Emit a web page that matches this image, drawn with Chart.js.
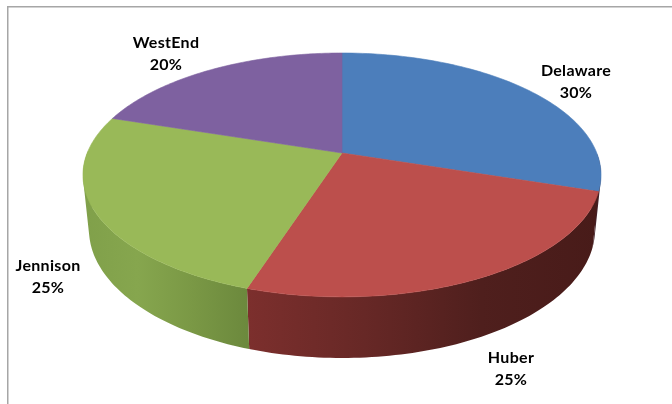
<!DOCTYPE html>
<html>
<head>
<meta charset="utf-8">
<script src="https://cdn.jsdelivr.net/npm/chart.js@4"></script>
<style>
    html, body { margin: 0; padding: 0; background: #fff; }
    canvas { display: block; }
</style>
</head>
<body>
<canvas id="pieChart" width="672" height="404"></canvas>
<script>
var categories = ['Delaware', 'Huber', 'Jennison', 'WestEnd'];
var shares = [30, 25, 25, 20];

var topColors = ['#4c7ebb', '#bc4f4c', '#99b958', '#7e61a0'];
var sideColors = [
    ['#43222a', '#43222a'],
    ['#7c2f2d', '#672826', '#4f1f1d', '#481b19'],
    ['#80a04a', '#86a64e', '#7a9845', '#6c893d'],
    ['#4c3b60', '#4c3b60']
];
var labelSpots = [[576, 71], [511, 358], [48, 266], [166, 43]];

// the tilted disc, in units of the radius the library gives the pie
var tilt = 0.18;
var topDisc = { sx: 2.548, sy: 1.18, drop: 0 };
var baseDisc = { sx: 2.489, sy: 1.243, drop: 53.4 };

function project(arc, disc, angle) {
    var u = Math.cos(angle), v = Math.sin(angle);
    var w = 1 - tilt * v;
    return {
        x: arc.x + disc.sx * arc.outerRadius * u / w,
        y: arc.y + disc.drop + disc.sy * arc.outerRadius * v / w
    };
}

function edge(arc, disc) {
    var pts = [];
    for (var i = 0; i <= 80; i++) {
        pts.push(project(arc, disc, arc.startAngle + (arc.endAngle - arc.startAngle) * i / 80));
    }
    return pts;
}

function tracePoints(ctx, pts, first) {
    pts.forEach(function (p, i) {
        if (i === 0 && first) ctx.moveTo(p.x, p.y);
        else ctx.lineTo(p.x, p.y);
    });
}

function signedArea(pts) {
    var sum = 0;
    pts.forEach(function (p, i) {
        var q = pts[(i + 1) % pts.length];
        sum += p.x * q.y - q.x * p.y;
    });
    return sum;
}

var pie3d = {
    id: 'pie3d',
    beforeDraw: function (chart) {
        var ctx = chart.ctx;
        ctx.save();
        ctx.fillStyle = '#fff';
        ctx.fillRect(0, 0, chart.width, chart.height);
        ctx.fillStyle = '#a6a6a6';
        ctx.fillRect(7, 6, chart.width - 7, 1.5);
        ctx.fillRect(7, 6, 1.5, chart.height - 6);
        ctx.restore();
    },
    beforeDatasetDraw: function (chart, args) {
        var ctx = chart.ctx;
        var arcs = args.meta.data;
        ctx.save();

        // side wall first, the top then covers whatever faces away
        arcs.forEach(function (arc, i) {
            var upper = edge(arc, topDisc);
            var lower = edge(arc, baseDisc);
            var xs = upper.map(function (p) { return p.x; });
            var grad = ctx.createLinearGradient(Math.min.apply(null, xs), 0, Math.max.apply(null, xs), 0);
            sideColors[i].forEach(function (c, k) {
                grad.addColorStop(k / (sideColors[i].length - 1), c);
            });
            ctx.beginPath();
            // the two rims cross near the widest point, so wind every quad the same way
            for (var k = 0; k < upper.length - 1; k++) {
                if (upper[k].y < arc.y) continue;
                var quad = [upper[k], upper[k + 1], lower[k + 1], lower[k]];
                if (signedArea(quad) < 0) quad.reverse();
                tracePoints(ctx, quad, true);
                ctx.closePath();
            }
            ctx.fillStyle = grad;
            ctx.fill();
        });

        arcs.forEach(function (arc, i) {
            ctx.beginPath();
            ctx.moveTo(arc.x, arc.y);
            tracePoints(ctx, edge(arc, topDisc), false);
            ctx.closePath();
            ctx.fillStyle = topColors[i];
            ctx.strokeStyle = topColors[i];
            ctx.lineWidth = 0.6;
            ctx.fill();
            ctx.stroke();
        });

        ctx.restore();
        return false;
    },
    afterDatasetsDraw: function (chart) {
        var ctx = chart.ctx;
        ctx.save();
        ctx.font = 'bold 16px Lato';
        ctx.letterSpacing = '0.3px';
        ctx.fillStyle = '#000';
        ctx.textAlign = 'center';
        ctx.textBaseline = 'middle';
        categories.forEach(function (name, i) {
            ctx.fillText(name, labelSpots[i][0], labelSpots[i][1]);
            ctx.fillText(shares[i] + '%', labelSpots[i][0], labelSpots[i][1] + 22);
        });
        ctx.restore();
    }
};

new Chart(document.getElementById('pieChart'), {
    type: 'pie',
    data: {
        labels: categories,
        datasets: [{ data: shares, backgroundColor: topColors, borderWidth: 0 }]
    },
    options: {
        responsive: false,
        animation: false,
        layout: { padding: { left: 242, right: 230, top: 53, bottom: 151 } },
        plugins: { legend: { display: false }, tooltip: { enabled: false } }
    },
    plugins: [pie3d]
});
</script>
</body>
</html>
